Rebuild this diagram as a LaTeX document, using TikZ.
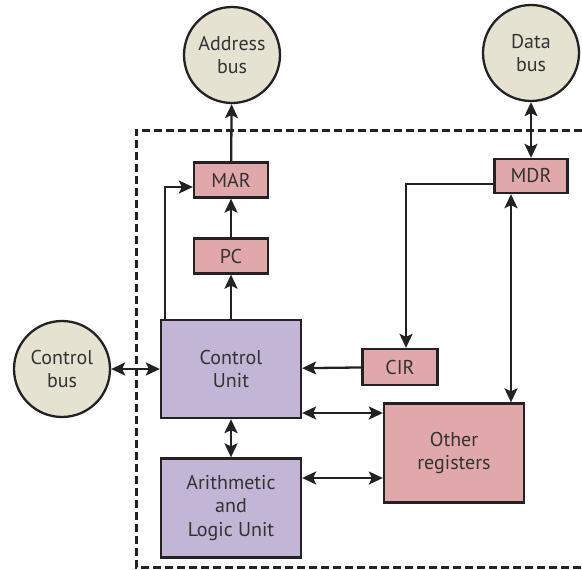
\documentclass[tikz,border=0pt]{standalone}
\usepackage{fontspec}
\setmainfont{PT Sans}
\usetikzlibrary{arrows.meta}

\definecolor{busfill}{HTML}{E5E2D2}
\definecolor{regfill}{HTML}{E0A8AA}
\definecolor{unitfill}{HTML}{C3B5D6}
\definecolor{edge}{HTML}{222222}
\definecolor{ink}{HTML}{333333}

\begin{document}
\begin{tikzpicture}[x=1pt,y=-1pt,
  font=\fontsize{20}{23.5}\selectfont,
  bus/.style={circle,draw=edge,line width=2.3pt,fill=busfill,text=ink,
    minimum size=96pt,inner sep=0pt,align=center},
  reg/.style={draw=edge,line width=2.3pt,fill=regfill,text=ink,
    minimum width=74pt,minimum height=35pt,inner sep=0pt,align=center},
  unit/.style={draw=edge,line width=2.3pt,fill=unitfill,text=ink,
    minimum width=140pt,minimum height=98pt,inner sep=0pt,align=center},
  arr/.style={draw=edge,line width=2.3pt,-{Stealth[length=14pt,width=13pt,inset=3pt]}},
  both/.style={arr,{Stealth[length=14pt,width=13pt,inset=3pt]}-{Stealth[length=14pt,width=13pt,inset=3pt]}}]

\useasboundingbox (0,0) rectangle (582,570);

% processor boundary, open on the right
\draw[edge,line width=3pt,dash pattern=on 8pt off 4pt]
  (582,130)--(136,130)--(136,567)--(582,567);

\node[bus] (addr) at (232,55) {Address\\bus};
\node[bus] (data) at (531,53) {Data\\bus};
\node[bus] (ctrl) at (62,369) {Control\\bus};

\node[reg] (mar) at (231,180) {MAR};
\node[reg] (pc)  at (231,256) {PC};
\node[reg,minimum width=73pt,minimum height=34pt] (mdr) at (531,176) {MDR};
\node[reg,minimum width=75pt,minimum height=36pt] (cir) at (400,367) {CIR};
\node[reg,minimum width=140pt,minimum height=99pt] (other) at (454,453) {Other\\registers};

\node[unit] (cu)  at (231,369) {Control\\Unit};
\node[unit,minimum height=99pt] (alu) at (231,508) {Arithmetic\\and\\Logic Unit};

\draw[arr] (mar) -- (addr);
\draw[arr] (pc) -- (mar);
\draw[arr] (cu) -- (pc);
\draw[arr] ([xshift=5pt]cu.north west) |- ([yshift=-7pt]mar.west);
\draw[both] (data) -- (mdr);
\draw[arr] ([yshift=-8pt]mdr.west) -| ([xshift=6pt]cir.north);
\draw[both] ([xshift=-20pt]mdr.south) -- ([xshift=-20pt]mdr.south |- other.north);
\draw[arr] (cir) -- (cu);
\draw[both] ([yshift=-44pt]cu.east) -- ([yshift=-44pt]cu.east -| other.west);
\draw[both] ([yshift=30pt]alu.east) -- ([yshift=30pt]alu.east -| other.west);
\draw[both] (cu) -- (alu);
\draw[both] (ctrl) -- (cu);

\end{tikzpicture}
\end{document}
